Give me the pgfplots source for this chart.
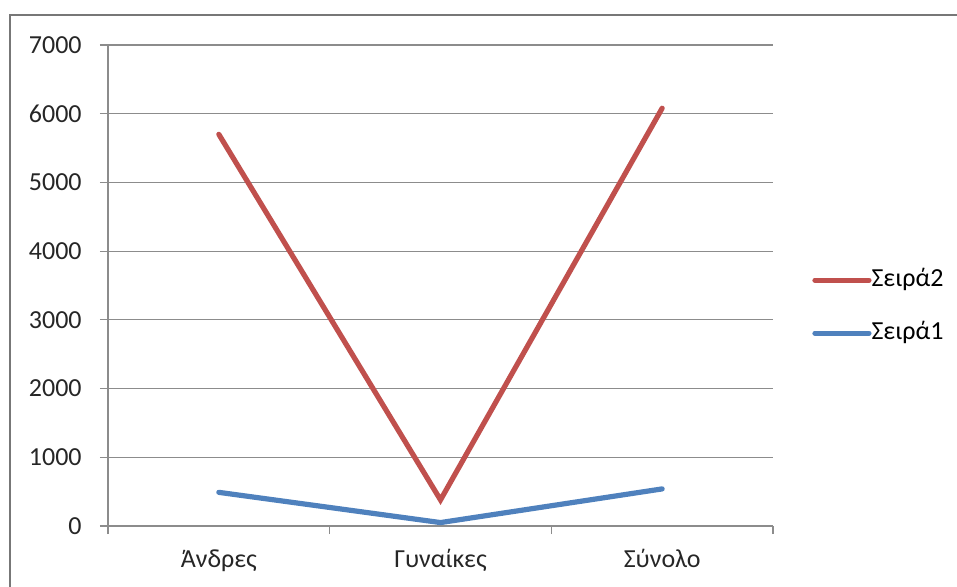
\documentclass[border=0pt]{standalone}
\usepackage{fontspec}
\setmainfont{Carlito}
\usepackage{pgfplots}
\pgfplotsset{compat=1.18}
\definecolor{serred}{HTML}{C0504D}
\definecolor{serblue}{HTML}{4F81BD}
\definecolor{gridgray}{HTML}{8C8C8C}
\begin{document}
\begin{tikzpicture}
\path[use as bounding box] (-54pt,-30pt) rectangle (424.5pt,263pt);
\draw[gridgray!85!black, line width=1pt] (-49pt,-40pt) -- (-49pt,255.5pt) -- (440pt,255.5pt);
\begin{axis}[
  at={(0pt,0pt)}, anchor=origin,
  scale only axis, width=332.5pt, height=240.5pt,
  xmin=0.5, xmax=3.5, ymin=0, ymax=7000,
  axis x line*=bottom, axis y line*=left,
  axis line style={draw=gridgray, line width=0.6pt, -},
  ytick={0,1000,...,7000},
  ymajorgrids, grid style={gridgray, line width=0.6pt},
  tick align=outside, major tick length=4pt,
  tick style={gridgray, line width=0.6pt},
  xtick={0.5,1.5,2.5,3.5}, xticklabels={},
  extra x ticks={1,2,3},
  extra x tick labels={Άνδρες,Γυναίκες,Σύνολο},
  extra x tick style={major tick length=0pt, grid=none,
     tick label style={anchor=base, inner sep=0pt, yshift=-20.5pt}},
  scaled y ticks=false,
  yticklabel style={/pgf/number format/1000 sep={}, anchor=east, inner sep=0pt, xshift=-9pt},
  /pgf/number format/assume math mode=true,
  ticklabel style={font=\fontsize{13pt}{15pt}\selectfont, text=black!85},
  clip=false,
  legend style={at={(axis description cs:1.0586,0.456)}, anchor=west, draw=none, fill=none,
     inner sep=0pt, font=\fontsize{13pt}{15pt}\selectfont,
     nodes={inner sep=0pt, text height=9pt, text depth=3pt}, row sep=14.5pt,
     /tikz/every even column/.append style={column sep=1.5pt}},
  legend cell align=left,
  reverse legend,
  legend image code/.code={\draw[#1, line cap=round] (0pt,0pt) -- (27pt,0pt);},
]
\addplot[serblue, line width=2.6pt, line cap=round] coordinates {(1,490) (2,50) (3,540)};
\addlegendentry{Σειρά1}
\addplot[serred, line width=2.6pt, line cap=round] coordinates {(1,5700) (2,380) (3,6080)};
\addlegendentry{Σειρά2}
\end{axis}
\end{tikzpicture}
\end{document}
